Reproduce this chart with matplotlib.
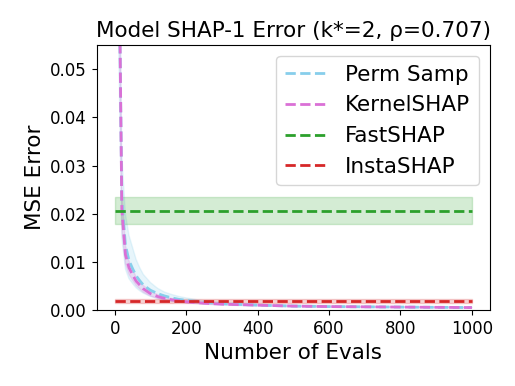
import numpy as np
import matplotlib
matplotlib.use('Agg')
import matplotlib.pyplot as plt

evals = [10, 20, 30, 40, 50, 60, 70, 80, 100, 120, 140, 160, 180, 200,
         250, 300, 400, 500, 600, 700, 800, 900, 1000]

perm_mean = [0.085, 0.023, 0.0135, 0.0103, 0.0086, 0.0071, 0.0061, 0.0052, 0.0041, 0.0034,
             0.0029, 0.0025, 0.0022, 0.0020, 0.0016, 0.0013, 0.0010, 0.0008, 0.0007,
             0.00065, 0.0006, 0.00055, 0.0005]
perm_hi = [0.11, 0.032, 0.020, 0.0155, 0.0130, 0.0105, 0.0088, 0.0074, 0.0057, 0.0045,
           0.0037, 0.0032, 0.0028, 0.0025, 0.0019, 0.0016, 0.0012, 0.0010, 0.0009,
           0.0008, 0.0007, 0.00065, 0.0006]
perm_lo = [0.06, 0.015, 0.0085, 0.0065, 0.0055, 0.0046, 0.0040, 0.0035, 0.0028, 0.0024,
           0.0020, 0.0018, 0.0016, 0.0015, 0.0012, 0.0010, 0.0008, 0.00065, 0.00055,
           0.0005, 0.00048, 0.00045, 0.0004]

kernel_mean = [0.09, 0.021, 0.0115, 0.0088, 0.0073, 0.0060, 0.0052, 0.0044, 0.0034, 0.0028,
               0.0024, 0.0021, 0.0019, 0.0017, 0.0014, 0.0012, 0.0010, 0.0008, 0.0007,
               0.00065, 0.0006, 0.00055, 0.0005]
kernel_hi = [0.10, 0.025, 0.0135, 0.0102, 0.0084, 0.0069, 0.0060, 0.0051, 0.0039, 0.0032,
             0.0027, 0.0024, 0.0021, 0.0019, 0.0016, 0.0013, 0.0011, 0.0009, 0.0008,
             0.0007, 0.00065, 0.0006, 0.00055]
kernel_lo = [0.08, 0.017, 0.0096, 0.0074, 0.0062, 0.0051, 0.0044, 0.0037, 0.0029, 0.0024,
             0.0021, 0.0018, 0.0017, 0.0015, 0.0012, 0.0011, 0.0009, 0.0007, 0.0006,
             0.0006, 0.00055, 0.0005, 0.00045]

const_x = [0, 1000]
fast_mean, fast_lo, fast_hi = 0.0205, 0.0179, 0.0234
insta_mean, insta_lo, insta_hi = 0.0019, 0.0015, 0.0023

fig = plt.figure(figsize=(5.15, 3.86), dpi=100)
ax = fig.add_axes([0.188, 0.197, 0.763, 0.686])

lw = 2.0
ax.plot(evals, perm_mean, '--', color='skyblue', linewidth=lw, label='Perm Samp')
ax.fill_between(evals, perm_lo, perm_hi, color='skyblue', alpha=0.2)
ax.plot(evals, kernel_mean, '--', color='orchid', linewidth=lw, label='KernelSHAP')
ax.fill_between(evals, kernel_lo, kernel_hi, color='orchid', alpha=0.2)
ax.plot(const_x, [fast_mean] * 2, '--', color='tab:green', linewidth=lw, label='FastSHAP')
ax.fill_between(const_x, [fast_lo] * 2, [fast_hi] * 2, color='tab:green', alpha=0.2)
ax.plot(const_x, [insta_mean] * 2, '--', color='tab:red', linewidth=lw, label='InstaSHAP')
ax.fill_between(const_x, [insta_lo] * 2, [insta_hi] * 2, color='tab:red', alpha=0.2)

ax.set_xlim(-50, 1050)
ax.set_ylim(0, 0.055)
ax.set_xticks([0, 200, 400, 600, 800, 1000])
ax.set_yticks([0.0, 0.01, 0.02, 0.03, 0.04, 0.05])
ax.tick_params(labelsize=12)
ax.set_xlabel('Number of Evals', fontsize=15.5)
ax.set_ylabel('MSE Error', fontsize=15.5)
ax.set_title('Model SHAP-1 Error (k*=2, ρ=0.707)', fontsize=15.5)
ax.legend(loc='upper right', fontsize=15.5)

plt.savefig('out.png', dpi=100)
